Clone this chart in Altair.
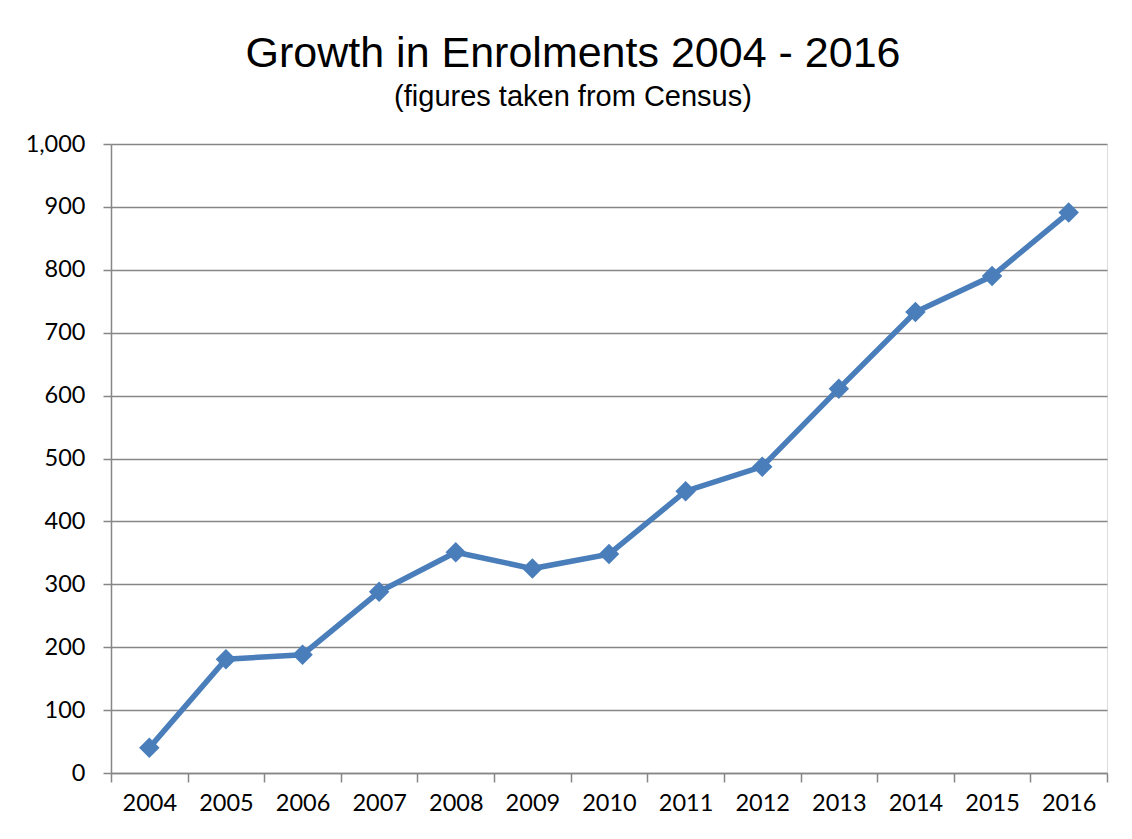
import altair as alt
import pandas as pd

years = ["2004", "2005", "2006", "2007", "2008", "2009", "2010",
         "2011", "2012", "2013", "2014", "2015", "2016"]
enrolments = [40, 181, 188, 288, 351, 325, 348, 448, 487, 611, 733, 790, 891]
y_ticks = [0, 100, 200, 300, 400, 500, 600, 700, 800, 900, 1000]

df = pd.DataFrame({"year": years, "enrolments": enrolments})

label_font = "Lato"
grey = "#868686"
blue = "#4A7EBB"

x = alt.X(
    "year:O",
    bandPosition=0.5,
    scale=alt.Scale(type="band", paddingInner=0, paddingOuter=0),
    axis=alt.Axis(
        title=None, labelAngle=0, tickBand="extent", grid=False,
        domainColor=grey, domainWidth=1.5, tickColor=grey, tickWidth=1.5,
        tickSize=9, labelFont=label_font, labelFontSize=23.5, labelColor="#000000",
        labelPadding=9,
    ),
)
y = alt.Y(
    "enrolments:Q",
    scale=alt.Scale(domain=[0, 1000], nice=False),
    axis=alt.Axis(
        title=None, values=y_ticks, format=",.0f", grid=True, gridColor=grey,
        gridWidth=1.5, domainColor=grey, domainWidth=1.5, tickColor=grey,
        tickWidth=1.5, tickSize=8, labelFont=label_font, labelFontSize=23.5,
        labelColor="#000000", labelPadding=18,
    ),
)

line = alt.Chart(df).mark_line(color=blue, strokeWidth=5.5).encode(x=x, y=y)
points = alt.Chart(df).mark_point(
    shape="diamond", filled=True, color=blue, size=420, opacity=1
).encode(x=x, y=y)

chart = (
    alt.layer(line, points)
    .properties(
        width=996,
        height=629,
        title=alt.TitleParams(
            text="Growth in Enrolments 2004 - 2016",
            subtitle="(figures taken from Census)",
            font="Liberation Sans",
            fontSize=43,
            fontWeight="normal",
            color="#000000",
            subtitleFont="Liberation Sans",
            subtitleFontSize=29,
            subtitleColor="#000000",
            subtitlePadding=7,
            anchor="middle",
            dx=-36,
            offset=20,
        ),
        autosize=alt.AutoSizeParams(type="none"),
        padding={"left": 103, "top": 136, "right": 17, "bottom": 58},
    )
    .configure_view(stroke=None)
    .configure(background="#ffffff")
)

chart.save("out.html", embed_options={"renderer": "svg", "actions": False})
